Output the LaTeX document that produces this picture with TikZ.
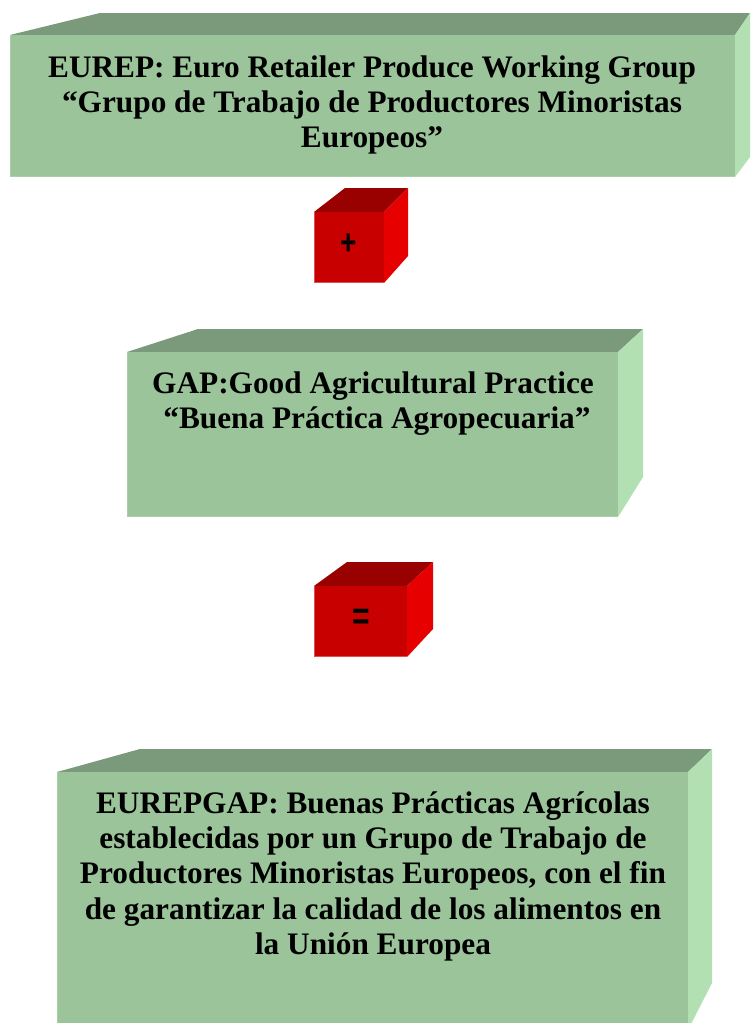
\documentclass[tikz,border=0pt]{standalone}
\usepackage{fontspec}
\setmainfont{Liberation Serif}
\newfontfamily\opsans{Liberation Sans}
\definecolor{gfront}{HTML}{9BC49B}
\definecolor{gedge}{HTML}{A8CFA8}
\definecolor{gtop}{HTML}{7B997B}
\definecolor{gside}{HTML}{B2E0B2}
\definecolor{rfront}{HTML}{C80000}
\definecolor{redge}{HTML}{E05050}
\definecolor{rtop}{HTML}{990000}
\definecolor{rside}{HTML}{E60000}
\begin{document}
\begin{tikzpicture}[x=1pt,y=-1pt,
  gfrontface/.style={fill=gfront},
  gtopface/.style={fill=gtop},
  gsideface/.style={fill=gside},
  gedgeline/.style={draw=gedge,line width=1.2pt},
  rfrontface/.style={fill=rfront},
  rtopface/.style={fill=rtop},
  rsideface/.style={fill=rside},
  redgeline/.style={draw=redge,line width=1pt},
  boxtext/.style={anchor=base,inner sep=0pt,font=\fontsize{31.3}{35.4}\selectfont\bfseries},
  optext/.style={anchor=center,inner sep=0pt,text=black,font=\opsans\bfseries}]
\useasboundingbox (0,0) rectangle (750,1023);
\fill[white] (0,0) rectangle (750,1023);
\clip (0,0) rectangle (750,1023);

% Box 1
\fill[gtopface] (10,35) -- (100,13) -- (750,13) -- (735,35) -- cycle;
\fill[gsideface] (735,35) -- (750,13) -- (750,157) -- (735,177) -- cycle;
\fill[gfrontface] (10,35) rectangle (735,177);
\draw[gedgeline] (10.6,35) -- (10.6,176.4) -- (735,176.4);
\node[boxtext] (t1) at (372,77) {\begin{tabular}[t]{@{}c@{}}EUREP: Euro Retailer Produce Working Group\\“Grupo de Trabajo de Productores Minoristas\\Europeos”\end{tabular}};

% Red cube 1
\fill[rtopface] (314,212) -- (345,188) -- (408,188) -- (384,212) -- cycle;
\fill[rsideface] (384,212) -- (408,188) -- (408,256) -- (384,283) -- cycle;
\fill[rfrontface] (314,212) rectangle (384,283);
\draw[redgeline] (314.5,212) -- (314.5,282.5) -- (384,282.5);
\node[optext] (plus) at (349,244) {\fontsize{28}{32}\selectfont\scalebox{1}[1.25]{+}};

% Box 2
\fill[gtopface] (127,352) -- (198,329) -- (643,329) -- (618,352) -- cycle;
\fill[gsideface] (618,352) -- (643,329) -- (643,477) -- (618,517) -- cycle;
\fill[gfrontface] (127,352) rectangle (618,517);
\draw[gedgeline] (127.6,352) -- (127.6,516.4) -- (618,516.4);
\node[boxtext] (t2) at (373,393) {\begin{tabular}[t]{@{}c@{}}GAP:Good Agricultural Practice\\~“Buena Práctica Agropecuaria”\end{tabular}};

% Red cube 2
\fill[rtopface] (314,586) -- (347,562) -- (433,562) -- (407,586) -- cycle;
\fill[rsideface] (407,586) -- (433,562) -- (433,629) -- (407,657) -- cycle;
\fill[rfrontface] (314,586) rectangle (407,657);
\draw[redgeline] (314.5,586) -- (314.5,656.5) -- (407,656.5);
\node[optext] (equals) at (361,619) {\fontsize{30}{34}\selectfont\scalebox{1}[1.3]{=}};

% Box 3
\fill[gtopface] (57,772) -- (140,749) -- (712,749) -- (688,772) -- cycle;
\fill[gsideface] (688,772) -- (712,749) -- (712,983) -- (688,1030) -- cycle;
\fill[gfrontface] (57,772) rectangle (688,1030);
\draw[gedgeline] (57.6,772) -- (57.6,1030);
\node[boxtext] (t3) at (373,813) {\begin{tabular}[t]{@{}c@{}}EUREPGAP: Buenas Prácticas Agrícolas\\establecidas por un Grupo de Trabajo de\\Productores Minoristas Europeos, con el fin\\de garantizar la calidad de los alimentos en\\la Unión Europea\end{tabular}};
\end{tikzpicture}
\end{document}
